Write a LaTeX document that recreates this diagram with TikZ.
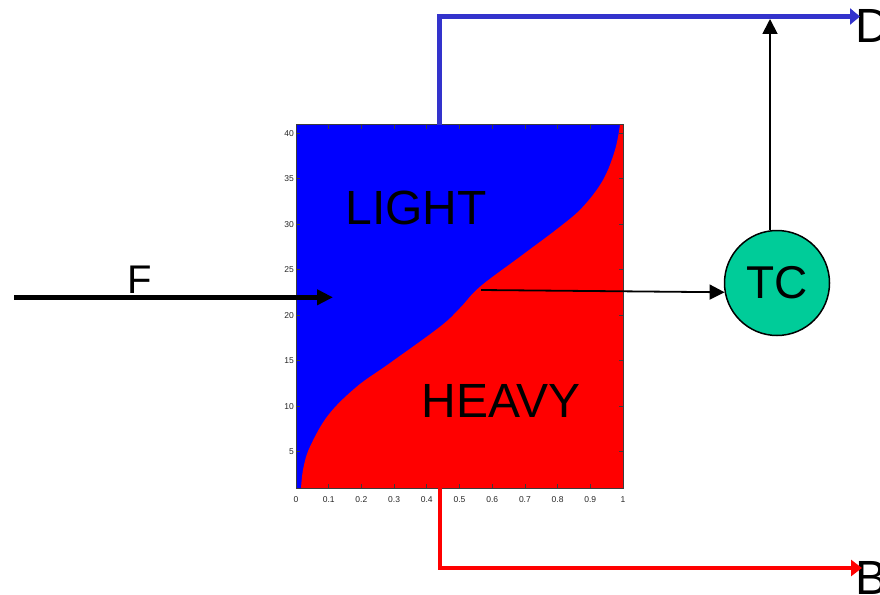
\documentclass[tikz,border=0pt]{standalone}
\usepackage{fontspec}
\setmainfont{Liberation Sans}
\usetikzlibrary{arrows.meta}
\definecolor{streamblue}{RGB}{51,51,204}
\definecolor{tcgreen}{RGB}{0,204,153}
\definecolor{frame}{RGB}{60,60,60}
\tikzset{
  bigtext/.style={font=\fontsize{48}{48}\selectfont, inner sep=0pt},
  ticklab/.style={font=\fontsize{8.5}{9}\selectfont, inner sep=0pt, text=black!85},
  tickmark/.style={draw=frame, line width=0.7pt},
  bluestream/.style={draw=streamblue, line width=4.5pt, -{Triangle[length=10pt,width=16pt]}},
  redstream/.style={draw=red, line width=4.5pt, -{Triangle[length=11pt,width=16pt]}},
  thinarrow/.style={draw=black, line width=1.8pt, -{Triangle[length=15pt,width=15pt]}},
  feedarrow/.style={draw=black, line width=4.5pt, -{Triangle[length=16pt,width=15pt]}},
  ctrl/.style={circle, draw=black, line width=1.5pt, fill=tcgreen, minimum size=105pt, inner sep=0pt, font=\fontsize{46}{46}\selectfont}
}
\begin{document}
\begin{tikzpicture}[x=1pt,y=-1pt]
\useasboundingbox (0,0) rectangle (880,594);
% plot area
\fill[blue] (296,124.7) rectangle (623,488.3);
\fill[red] plot[smooth, tension=0.6] coordinates {(301,488.3) (303.3,468.3) (310,446.7) (328.3,415) (356.7,386.7) (390,363) (440,326.7) (460,308) (480,286.7) (520,256.7) (560,226.7) (583,206.7) (603,180) (615,150) (620,124.7)} -- (623,124.7) -- (623,488.3) -- cycle;
\draw[frame, line width=0.8pt] (296,124.7) rectangle (623,488.3);
% x ticks
\foreach \i/\lab in {0/0,1/0.1,2/0.2,3/0.3,4/0.4,5/0.5,6/0.6,7/0.7,8/0.8,9/0.9,10/1} {
  \pgfmathsetmacro{\xx}{296+32.7*\i}
  \draw[tickmark] (\xx,488.3) -- ++(0,-4);
  \draw[tickmark] (\xx,124.7) -- ++(0,4);
  \node[ticklab] (xl\i) at (\xx,500) {\lab};
}
% y ticks
\foreach \v in {5,10,15,20,25,30,35,40} {
  \pgfmathsetmacro{\yy}{451.7-(\v-5)*9.097}
  \draw[tickmark] (296,\yy) -- ++(4,0);
  \draw[tickmark] (623,\yy) -- ++(-4,0);
  \node[ticklab, anchor=east] (yl\v) at (294,\yy) {\v};
}
% labels
\node[bigtext] (light) at (416,208) {LIGHT};
\node[bigtext] (heavy) at (501,401) {HEAVY};
% controller
\node[ctrl] (tc) at (777,283) {TC};
% stream labels
\node[bigtext, anchor=west] (D) at (855,26) {D};
\node[bigtext, anchor=west] (B) at (855,578) {B};
\node[inner sep=0pt, font=\fontsize{40}{40}\selectfont] (F) at (140,280) {F};
% coordinates
\coordinate (ftail) at (14,297.3);
\coordinate (ftip) at (333,297.3);
\coordinate (dtop) at (439.5,124.7);
\coordinate (dcorner) at (439.5,16.5);
\coordinate (dtip) at (860,16.5);
\coordinate (btop) at (440,488.3);
\coordinate (bcorner) at (440,568);
\coordinate (btip) at (862,568);
\coordinate (tap) at (481,290);
\coordinate (tcup) at (770,19);
% streams
\draw[bluestream] (dtop) -- (dcorner) -- (dtip);
\draw[redstream] (btop) -- (bcorner) -- (btip);
\draw[feedarrow] (ftail) -- (ftip);
\draw[thinarrow] (tap) -- (tc.190);
\draw[thinarrow] (tc.north -| tcup) -- (tcup);
\end{tikzpicture}
\end{document}
